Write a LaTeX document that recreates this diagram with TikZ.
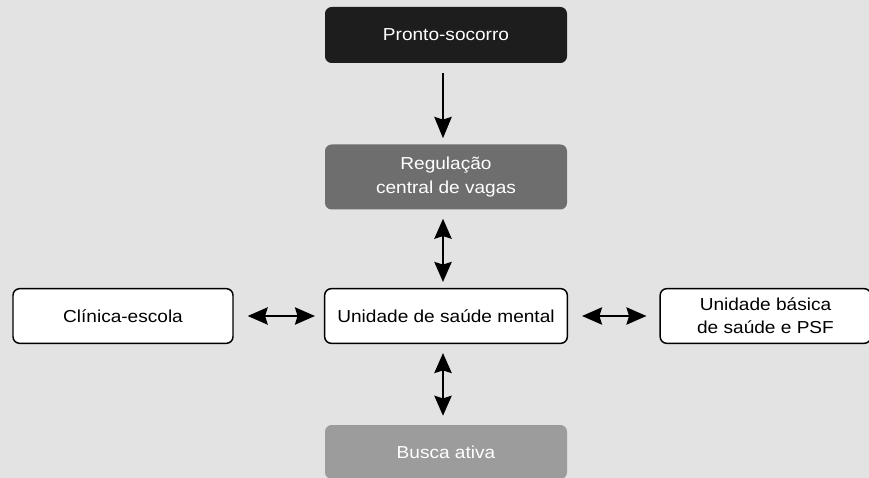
\documentclass[tikz,border=0pt]{standalone}
\usepackage{fontspec}
\newfontfamily\boxfont{Liberation Sans}[FakeStretch=1.1]
\usetikzlibrary{arrows.meta}

\definecolor{bgcol}{RGB}{227,227,227}
\definecolor{psblack}{RGB}{29,29,29}
\definecolor{reggray}{RGB}{110,110,110}
\definecolor{buscagray}{RGB}{156,156,156}

\begin{document}
\begin{tikzpicture}[x=0.75pt,y=-0.75pt,
	box/.style={rounded corners=5pt, align=center, inner sep=0pt, font=\boxfont\fontsize{13}{17.5}\selectfont},
	whitebox/.style={box, draw=black, line width=1.1pt, fill=white, minimum height=41pt},
	arr/.style={line width=1.5pt, -{Stealth[length=16pt,width=13pt,inset=2pt]}},
	darr/.style={line width=1.5pt, {Stealth[length=15pt,width=13pt,inset=2pt]}-{Stealth[length=15pt,width=13pt,inset=2pt]}}]
			\path[use as bounding box, fill=bgcol] (0,0) rectangle (869,478);
			
			% boxes
			\node[box, fill=psblack, text=white, minimum width=181.5pt, minimum height=42pt] (pronto) at (446,35) {Pronto-socorro};
			\node[box, fill=reggray, text=white, minimum width=181.5pt, minimum height=48.75pt] (regul) at (446,177) {Regulação\\central de vagas};
			\node[whitebox, minimum width=182pt] (usm) at (446,316) {Unidade de saúde mental};
			\node[whitebox, minimum width=165pt] (clinica) at (123,316) {Clínica-escola};
			\node[whitebox, minimum width=158pt] (ubs) at (765.5,316) {Unidade básica\\de saúde e PSF};
			\node[box, fill=buscagray, text=white, minimum width=181.5pt, minimum height=40.5pt] (busca) at (446,452) {Busca ativa};
			
			% arrows
			\draw[arr, shorten <=7.5pt, shorten >=4.5pt] ([xshift=-2.25pt]pronto.south) -- ([xshift=-2.25pt]regul.north);
			\draw[darr, shorten <=6.75pt, shorten >=4.5pt] ([xshift=-2.25pt]regul.south) -- ([xshift=-2.25pt]usm.north);
			\draw[darr, shorten <=6.75pt, shorten >=6.75pt] ([xshift=-2.25pt]usm.south) -- ([xshift=-2.25pt]busca.north);
			\draw[darr, shorten <=10.5pt, shorten >=6.75pt] (clinica.east) -- (usm.west);
			\draw[darr, shorten <=10.5pt, shorten >=9.75pt] (usm.east) -- (ubs.west);
		\end{tikzpicture}
\end{document}
